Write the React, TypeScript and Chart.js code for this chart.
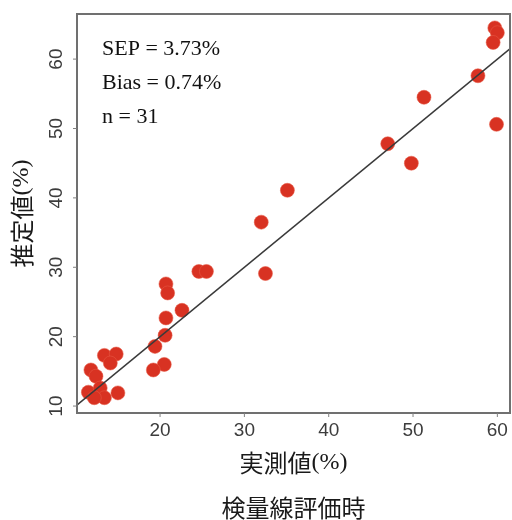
import { useEffect, useRef } from "react";
import { Chart, registerables } from "chart.js";

Chart.register(...registerables);

// measured vs. predicted content (%), calibration evaluation set
const measured = [
  59.7, 60.0, 59.5, 57.7, 51.3, 59.9, 47.0, 49.8, 35.1, 32.0,
  24.6, 25.5, 32.5, 20.7, 20.9, 22.6, 20.7, 20.6, 19.4, 20.5,
  19.2, 13.4, 14.8, 14.1, 11.8, 12.4, 11.5, 12.9, 13.4, 15.0, 12.2,
];
const predicted = [
  64.5, 63.8, 62.4, 57.6, 54.5, 50.6, 47.8, 45.0, 41.1, 36.5,
  29.4, 29.4, 29.1, 27.6, 26.3, 23.8, 22.7, 20.2, 18.6, 16.0,
  15.2, 17.3, 17.5, 16.2, 15.2, 14.3, 12.0, 12.6, 11.2, 11.9, 11.2,
];
const identityLine = [0, 100];

const xTicks = [20, 30, 40, 50, 60];
const yTicks = [10, 20, 30, 40, 50, 60];
const statLines = ["SEP = 3.73%", "Bias = 0.74%", "n = 31"];
const xTitle = ["実測値", "(%)"];
const yTitle = ["推定値", "(%)"];
const caption = "検量線評価時";

const X_MIN = 10.15;
const X_MAX = 61.5;
const Y_MIN = 9.0;
const Y_MAX = 66.5;

const SANS = "'Liberation Sans', Arial, sans-serif";
const SERIF = "'Liberation Serif', 'Times New Roman', serif";
const CJK = "'Noto Sans CJK JP', sans-serif";

function drawMixed(
  ctx: CanvasRenderingContext2D,
  parts: string[],
  cx: number,
  cy: number,
  size: number
) {
  const fonts = [`${size}px ${CJK}`, `${size}px ${SERIF}`];
  const widths = parts.map((p, i) => {
    ctx.font = fonts[i];
    return ctx.measureText(p).width;
  });
  const total = widths.reduce((a, b) => a + b, 0);
  let x = cx - total / 2;
  ctx.textAlign = "left";
  ctx.textBaseline = "middle";
  parts.forEach((p, i) => {
    ctx.font = fonts[i];
    ctx.fillText(p, x, cy);
    x += widths[i];
  });
}

const framePlugin = {
  id: "frameAndLabels",
  afterDraw(chart: any) {
    const { ctx, chartArea: a, scales } = chart;
    const xs = scales.x;
    const ys = scales.y;
    ctx.save();

    // plot frame
    ctx.strokeStyle = "#707070";
    ctx.lineWidth = 2;
    ctx.strokeRect(a.left, a.top, a.right - a.left, a.bottom - a.top);

    // tick marks and tick labels
    ctx.strokeStyle = "#808080";
    ctx.lineWidth = 1;
    ctx.fillStyle = "#3c3c3c";
    ctx.font = `19px ${SANS}`;
    ctx.textAlign = "center";
    ctx.textBaseline = "middle";
    xTicks.forEach((v) => {
      const px = xs.getPixelForValue(v);
      ctx.beginPath();
      ctx.moveTo(px, a.bottom);
      ctx.lineTo(px, a.bottom + 4);
      ctx.stroke();
      ctx.fillText(String(v), px, 431);
    });
    yTicks.forEach((v) => {
      const py = ys.getPixelForValue(v);
      ctx.beginPath();
      ctx.moveTo(a.left - 4, py);
      ctx.lineTo(a.left, py);
      ctx.stroke();
      ctx.save();
      ctx.translate(57, py);
      ctx.rotate(-Math.PI / 2);
      ctx.fillText(String(v), 0, 0);
      ctx.restore();
    });

    // statistics block
    ctx.fillStyle = "#111";
    ctx.font = `22px ${SERIF}`;
    ctx.textAlign = "left";
    ctx.textBaseline = "alphabetic";
    statLines.forEach((s, i) => ctx.fillText(s, 102, 55 + i * 34));

    // axis titles
    ctx.fillStyle = "#1a1a1a";
    drawMixed(ctx, xTitle, (a.left + a.right) / 2, 463, 24);
    ctx.save();
    ctx.translate(22, (a.top + a.bottom) / 2);
    ctx.rotate(-Math.PI / 2);
    drawMixed(ctx, yTitle, 0, 0, 24);
    ctx.restore();

    // caption
    ctx.font = `24px ${CJK}`;
    ctx.textAlign = "center";
    ctx.textBaseline = "middle";
    ctx.fillText(caption, (a.left + a.right) / 2, 508);

    ctx.restore();
  },
};

export default function App() {
  const canvasRef = useRef<HTMLCanvasElement | null>(null);

  useEffect(() => {
    const canvas = canvasRef.current;
    if (!canvas) return;
    const chart = new Chart(canvas, {
      type: "scatter",
      data: {
        datasets: [
          {
            type: "line",
            data: identityLine.map((v) => ({ x: v, y: v })),
            borderColor: "#3a3a3a",
            borderWidth: 1.6,
            pointRadius: 0,
            order: 0,
          } as any,
          {
            data: measured.map((m, i) => ({ x: m, y: predicted[i] })),
            backgroundColor: "rgb(216,50,34)",
            borderColor: "rgba(232,90,70,0.55)",
            borderWidth: 1,
            pointRadius: 7,
            order: 1,
          },
        ],
      },
      options: {
        responsive: false,
        animation: false,
        devicePixelRatio: 1,
        layout: {
          autoPadding: false,
          padding: { left: 77, top: 14, right: 2, bottom: 107 },
        },
        plugins: {
          legend: { display: false },
          tooltip: { enabled: false },
        },
        scales: {
          x: { type: "linear", min: X_MIN, max: X_MAX, display: false },
          y: { type: "linear", min: Y_MIN, max: Y_MAX, display: false },
        },
      },
      plugins: [framePlugin],
    });
    return () => chart.destroy();
  }, []);

  return (
    <div
      style={{
        position: "absolute",
        left: 0,
        top: 0,
        width: 512,
        height: 520,
        background: "#fff",
      }}
    >
      <canvas ref={canvasRef} width={512} height={520} />
    </div>
  );
}
